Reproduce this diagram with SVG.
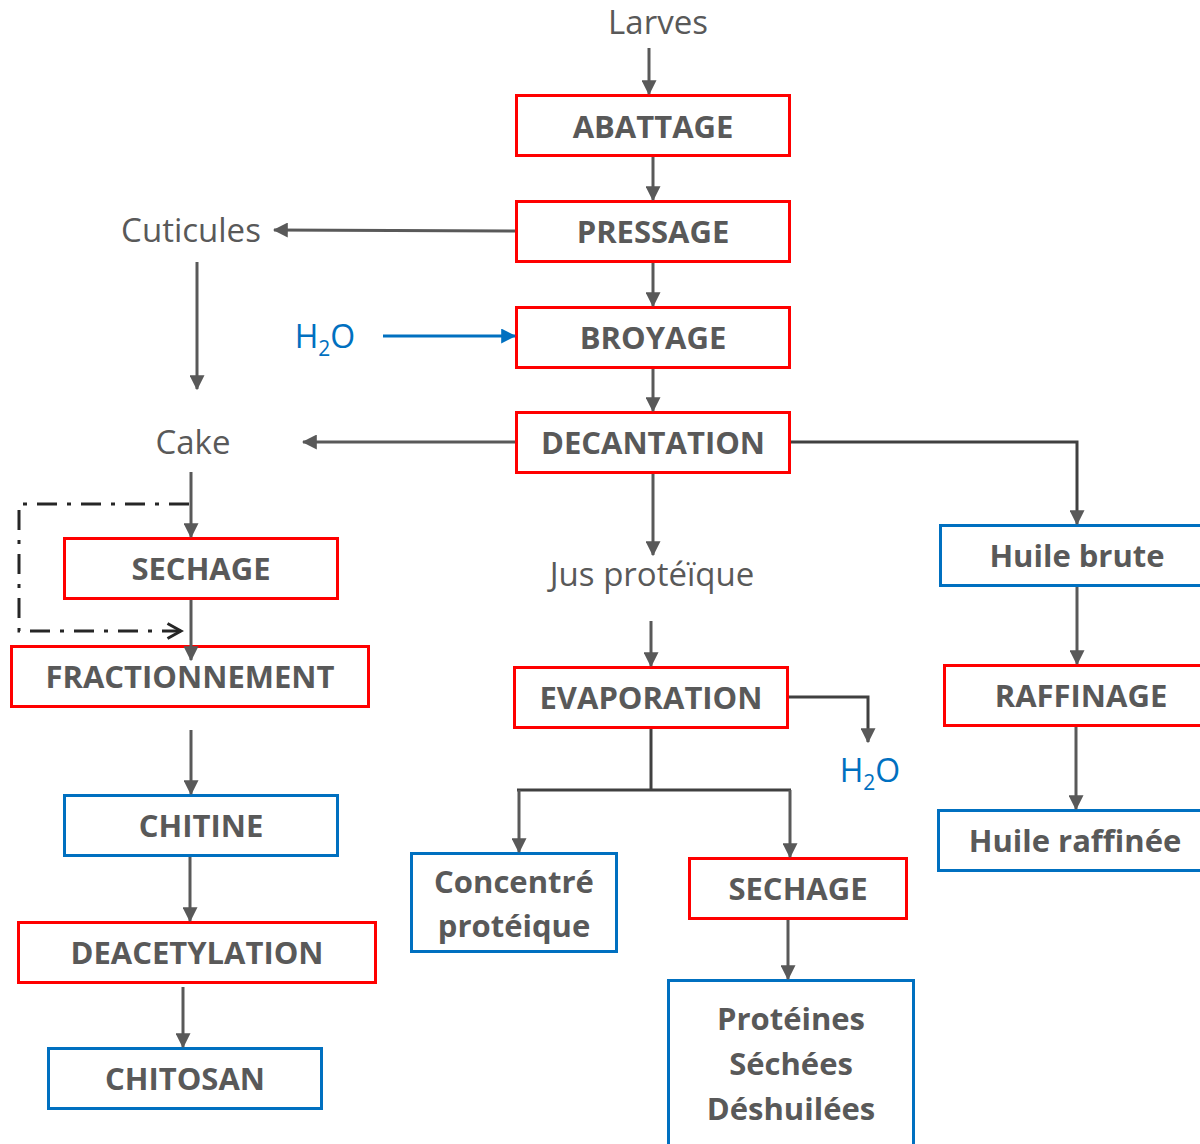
<svg xmlns="http://www.w3.org/2000/svg" width="1200" height="1144" viewBox="0 0 1200 1144">
  <style>
    .box { fill: #ffffff; stroke-width: 3; }
    .op { stroke: #ff0000; }
    .prod { stroke: #0070c0; }
    .lbl { font-family: "Open Sans", "Liberation Sans", sans-serif; font-weight: bold; font-size: 31px; fill: #595959; text-anchor: middle; }
    .txt { font-family: "Open Sans", "Liberation Sans", sans-serif; font-size: 33px; fill: #595959; text-anchor: middle; }
    .water { font-family: "Open Sans", "Liberation Sans", sans-serif; font-size: 32px; fill: #0070c0; text-anchor: middle; }
    .sub { font-size: 21px; }
    .link { fill: none; stroke: #595959; stroke-width: 3; }
    .dark { fill: none; stroke: #404040; stroke-width: 3; }
    .blue { fill: none; stroke: #0070c0; stroke-width: 3; }
    .dash { fill: none; stroke: #262626; stroke-width: 3; stroke-dasharray: 20 10 4 10; }
  </style>
  <defs>
    <marker id="ah" markerWidth="5" markerHeight="5" refX="4.6" refY="2.5" orient="auto" markerUnits="strokeWidth">
      <path d="M0,0 L5,2.5 L0,5 Z" fill="#595959"/>
    </marker>
    <marker id="ahb" markerWidth="5" markerHeight="5" refX="4.6" refY="2.5" orient="auto" markerUnits="strokeWidth">
      <path d="M0,0 L5,2.5 L0,5 Z" fill="#0070c0"/>
    </marker>
    <marker id="open" markerWidth="6" markerHeight="6" refX="5" refY="3" orient="auto" markerUnits="strokeWidth">
      <path d="M0.5,0.5 L5,3 L0.5,5.5" fill="none" stroke="#262626" stroke-width="1"/>
    </marker>
  </defs>

  <!-- free labels -->
  <g id="larves"><text class="txt" x="658" y="34">Larves</text></g>
  <g id="cuticules"><text class="txt" x="191" y="242">Cuticules</text></g>
  <g id="cake"><text class="txt" x="193" y="454">Cake</text></g>
  <g id="jus"><text class="txt" x="652" y="586">Jus protéïque</text></g>
  <g id="h2o-in"><text class="water" x="325" y="348">H<tspan class="sub" dy="8">2</tspan><tspan dy="-8">O</tspan></text></g>
  <g id="h2o-out"><text class="water" x="870" y="782">H<tspan class="sub" dy="8">2</tspan><tspan dy="-8">O</tspan></text></g>

  <!-- central line -->
  <g id="abattage"><rect class="box op" x="516.5" y="95.5" width="273" height="60"/><text class="lbl" x="653" y="138">ABATTAGE</text></g>
  <g id="pressage"><rect class="box op" x="516.5" y="201.5" width="273" height="60"/><text class="lbl" x="653" y="243">PRESSAGE</text></g>
  <g id="broyage"><rect class="box op" x="516.5" y="307.5" width="273" height="60"/><text class="lbl" x="653" y="349">BROYAGE</text></g>
  <g id="decantation"><rect class="box op" x="516.5" y="412.5" width="273" height="60"/><text class="lbl" x="653" y="454">DECANTATION</text></g>
  <g id="evaporation"><rect class="box op" x="514.5" y="667.5" width="273" height="60"/><text class="lbl" x="651" y="709">EVAPORATION</text></g>
  <g id="concentre"><rect class="box prod" x="411.5" y="853.5" width="205" height="98"/><text class="lbl" x="514" y="893">Concentré</text><text class="lbl" x="514" y="937">protéique</text></g>
  <g id="sechage-jus"><rect class="box op" x="689.5" y="858.5" width="217" height="60"/><text class="lbl" x="798" y="900">SECHAGE</text></g>
  <g id="proteines"><rect class="box prod" x="668.5" y="980.5" width="245" height="175"/><text class="lbl" x="791" y="1030">Protéines</text><text class="lbl" x="791" y="1075">Séchées</text><text class="lbl" x="791" y="1120">Déshuilées</text></g>

  <!-- oil line -->
  <g id="huile-brute"><rect class="box prod" x="940.5" y="525.5" width="270" height="60"/><text class="lbl" x="1077" y="567">Huile brute</text></g>
  <g id="raffinage"><rect class="box op" x="944.5" y="665.5" width="266" height="60"/><text class="lbl" x="1081" y="707">RAFFINAGE</text></g>
  <g id="huile-raffinee"><rect class="box prod" x="938.5" y="810.5" width="272" height="60"/><text class="lbl" x="1075" y="852">Huile raffinée</text></g>

  <!-- cuticle line -->
  <g id="sechage-cake"><rect class="box op" x="64.5" y="538.5" width="273" height="60"/><text class="lbl" x="201" y="580">SECHAGE</text></g>
  <g id="fractionnement"><rect class="box op" x="11.5" y="646.5" width="357" height="60"/><text class="lbl" x="190" y="688">FRACTIONNEMENT</text></g>
  <g id="chitine"><rect class="box prod" x="64.5" y="795.5" width="273" height="60"/><text class="lbl" x="201" y="837">CHITINE</text></g>
  <g id="deacetylation"><rect class="box op" x="18.5" y="922.5" width="357" height="60"/><text class="lbl" x="197" y="964">DEACETYLATION</text></g>
  <g id="chitosan"><rect class="box prod" x="48.5" y="1048.5" width="273" height="60"/><text class="lbl" x="185" y="1090">CHITOSAN</text></g>

  <g id="connectors">
    <line class="link" x1="649" y1="48" x2="649" y2="94" marker-end="url(#ah)"/>
    <line class="link" x1="653" y1="157" x2="653" y2="200" marker-end="url(#ah)"/>
    <line class="link" x1="653" y1="263" x2="653" y2="306" marker-end="url(#ah)"/>
    <line class="link" x1="653" y1="369" x2="653" y2="411" marker-end="url(#ah)"/>
    <line class="link" x1="515" y1="231" x2="274" y2="230" marker-end="url(#ah)"/>
    <line class="link" x1="197" y1="262" x2="197" y2="389" marker-end="url(#ah)"/>
    <line class="link" x1="515" y1="442" x2="303" y2="442" marker-end="url(#ah)"/>
    <line class="blue" x1="383" y1="336" x2="515" y2="336" marker-end="url(#ahb)"/>
    <polyline class="dark" points="791,442 1077,442 1077,524" marker-end="url(#ah)"/>
    <line class="link" x1="653" y1="474" x2="653" y2="555" marker-end="url(#ah)"/>
    <line class="link" x1="651" y1="621" x2="651" y2="666" marker-end="url(#ah)"/>
    <polyline class="dark" points="789,697 868,697 868,742" marker-end="url(#ah)"/>
    <line class="dark" x1="651" y1="729" x2="651" y2="790"/>
    <line class="dark" x1="517" y1="790" x2="791" y2="790"/>
    <line class="link" x1="519" y1="790" x2="519" y2="852" marker-end="url(#ah)"/>
    <line class="link" x1="790" y1="790" x2="790" y2="857" marker-end="url(#ah)"/>
    <line class="link" x1="788" y1="920" x2="788" y2="979" marker-end="url(#ah)"/>
    <line class="link" x1="1077" y1="587" x2="1077" y2="664" marker-end="url(#ah)"/>
    <line class="link" x1="1076" y1="727" x2="1076" y2="809" marker-end="url(#ah)"/>
    <line class="link" x1="191" y1="472" x2="191" y2="537" marker-end="url(#ah)"/>
    <line class="link" x1="191" y1="600" x2="191" y2="660" marker-end="url(#ah)"/>
    <polyline class="dash" points="189,504 19,504 19,631 181,631" marker-end="url(#open)"/>
    <line class="link" x1="191" y1="730" x2="191" y2="794" marker-end="url(#ah)"/>
    <line class="link" x1="190" y1="857" x2="190" y2="921" marker-end="url(#ah)"/>
    <line class="link" x1="183" y1="987" x2="183" y2="1047" marker-end="url(#ah)"/>
  </g>
</svg>
